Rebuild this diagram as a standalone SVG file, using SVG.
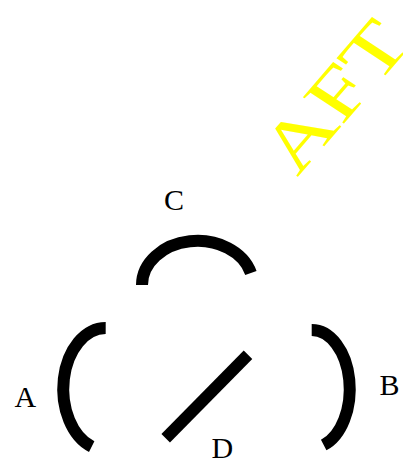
<svg xmlns="http://www.w3.org/2000/svg" width="403" height="459" viewBox="0 0 403 459">
<style>
.arc{fill:none;stroke:#000;stroke-width:12;stroke-linecap:butt}
.lbl{font-family:"Liberation Serif","Times New Roman",serif;font-size:30px;fill:#000}
.wm{font-family:"Liberation Serif","Times New Roman",serif;font-size:100px;fill:#ffff00}
</style>
<rect width="403" height="459" fill="#fff"/>
<text class="wm" transform="matrix(0.615 -0.715 0.62 0.41 297.3 177.6)">AFT</text>
<g id="connectors"></g>
<g id="nodeA"><path class="arc" d="M105.7 328 A42.4 61 0 0 0 91.7 446.6"/><text class="lbl" x="14.5" y="407">A</text></g>
<g id="nodeB"><path class="arc" d="M311.7 330 A38 59 0 0 1 323.7 445"/><text class="lbl" x="379.5" y="395">B</text></g>
<g id="nodeC"><path class="arc" d="M142 285 A55.5 44 0 0 1 250.9 272.9"/><text class="lbl" x="164" y="210">C</text></g>
<g id="nodeD"><path class="arc" d="M165.7 438.3 L248 354.7"/><text class="lbl" x="211.5" y="458">D</text></g>
</svg>
